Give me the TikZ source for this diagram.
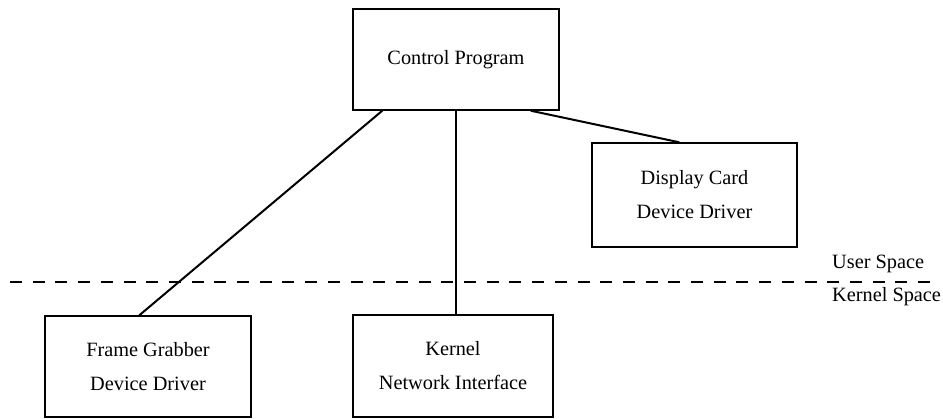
\documentclass[tikz,border=0pt]{standalone}
\usepackage{fontspec}
\setmainfont{Liberation Serif}
\usetikzlibrary{calc}
\begin{document}
\begin{tikzpicture}[x=1pt,y=-1pt,
  box/.style={draw, line width=1.4pt, rectangle, inner sep=0pt, align=center,
    font=\fontsize{20.3}{34}\selectfont},
  conn/.style={line width=2pt},
  lbl/.style={anchor=base west, inner sep=0pt, font=\fontsize{20.3}{24}\selectfont},
  divider/.style={line width=2.2pt, dash pattern=on 12pt off 10.7pt}]
\useasboundingbox (0,0) rectangle (943,419);
\node[box, minimum width=206pt, minimum height=101pt] (cp) at (456,59.5) {Control Program};
\node[box, minimum width=205pt, minimum height=104pt] (dc) at (694.5,195) {Display Card\\Device Driver};
\node[box, minimum width=206pt, minimum height=101pt] (fg) at (148,366.5) {Frame Grabber\\Device Driver};
\node[box, minimum width=200pt, minimum height=102pt] (kn) at (453,366) {Kernel\\Network Interface};
\coordinate (dl) at (10,282);
\coordinate (dr) at (933,282);
\draw[divider] (dl) -- (dr);
\node[lbl] (us) at (832,269) {User Space};
\node[lbl] (ks) at (832,302) {Kernel Space};
\draw[conn] ($(cp.south west)+(30,0)$) -- ($(fg.north west)+(95,0)$);
\draw[conn] (cp.south) -- (cp.south |- kn.north);
\draw[conn] ($(cp.south east)+(-29,0)$) -- ($(dc.north west)+(88,0)$);
\end{tikzpicture}
\end{document}
